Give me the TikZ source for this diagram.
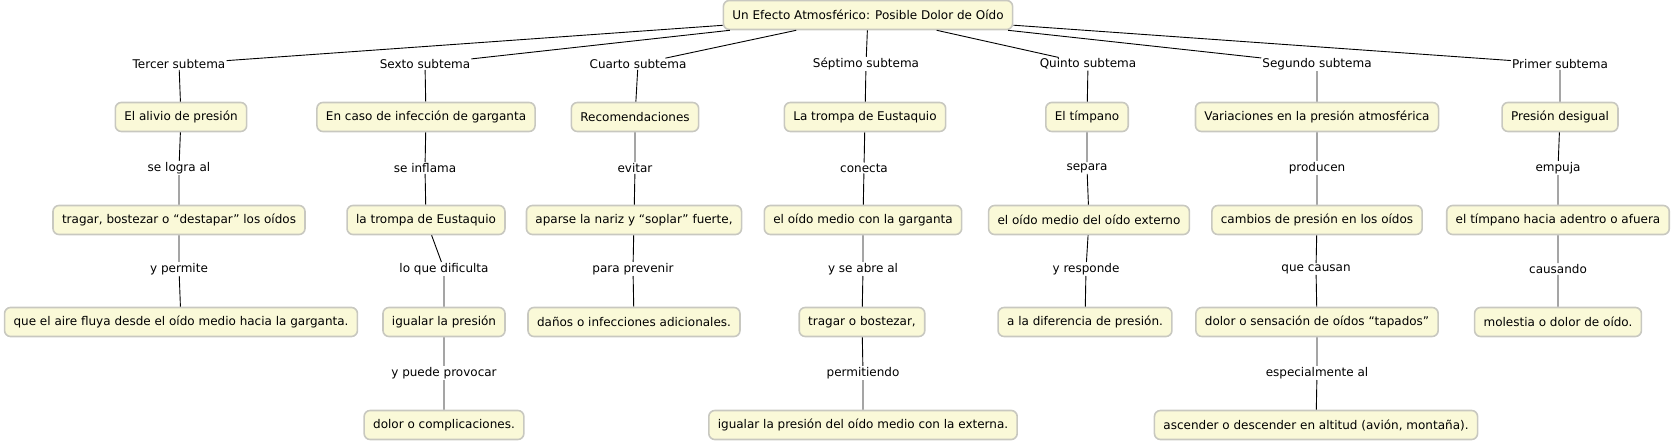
\documentclass[tikz,border=0pt]{standalone}
\usepackage{fontspec}
\setmainfont{DejaVu Sans}
\definecolor{crema}{RGB}{250,249,216}
\definecolor{borde}{RGB}{200,200,192}

\begin{document}
\begin{tikzpicture}[x=1pt,y=-1pt,
  concepto/.style={draw=borde, line width=1.6pt, fill=crema, rounded corners=6pt,
    inner xsep=9pt, minimum height=29pt, font=\fontsize{12}{14}\selectfont},
  enlace/.style={inner sep=1pt, font=\fontsize{12}{14}\selectfont},
  linea/.style={line width=0.9pt}]
\useasboundingbox (0,0) rectangle (1675,443);
% Concepto raiz
\node[concepto] (raiz) at (868,15) {Un Efecto Atmosférico: Posible Dolor de Oído};
% Tercer subtema
\node[enlace] (tercer) at (179,64) {Tercer subtema};
\node[concepto] (alivio) at (181,117) {El alivio de presión};
\node[enlace] (logra) at (179,168) {se logra al};
\node[concepto] (tragar) at (179,220) {tragar, bostezar o “destapar” los oídos};
\node[enlace] (permite) at (179,269) {y permite};
\node[concepto] (aire) at (181,322) {que el aire fluya desde el oído medio hacia la garganta.};
% Sexto subtema
\node[enlace] (sexto) at (425,64) {Sexto subtema};
\node[concepto] (infeccion) at (426,117) {En caso de infección de garganta};
\node[enlace] (inflama) at (425,168) {se inflama};
\node[concepto] (trompaA) at (426,220) {la trompa de Eustaquio};
\node[enlace] (dificulta) at (444,269) {lo que dificulta};
\node[concepto] (igualarA) at (444,322) {igualar la presión};
\node[enlace] (provocar) at (444,373) {y puede provocar};
\node[concepto] (complicaciones) at (444,425) {dolor o complicaciones.};
% Cuarto subtema
\node[enlace] (cuarto) at (638,64) {Cuarto subtema};
\node[concepto] (recomendaciones) at (635,117) {Recomendaciones};
\node[enlace] (evitar) at (635,168) {evitar};
\node[concepto] (sonarse) at (634,220) {aparse la nariz y “soplar” fuerte,};
\node[enlace] (prevenir) at (633,269) {para prevenir};
\node[concepto] (danos) at (634,322) {daños o infecciones adicionales.};
% Septimo subtema
\node[enlace] (septimo) at (866,64) {Séptimo subtema};
\node[concepto] (trompaB) at (865,117) {La trompa de Eustaquio};
\node[enlace] (conecta) at (864,168) {conecta};
\node[concepto] (medio) at (863,220) {el oído medio con la garganta};
\node[enlace] (abre) at (863,269) {y se abre al};
\node[concepto] (bostezar) at (862,322) {tragar o bostezar,};
\node[enlace] (permitiendo) at (863,373) {permitiendo};
\node[concepto] (igualarB) at (863,425) {igualar la presión del oído medio con la externa.};
% Quinto subtema
\node[enlace] (quinto) at (1088,64) {Quinto subtema};
\node[concepto] (timpano) at (1087,117) {El tímpano};
\node[enlace] (separa) at (1087,168) {separa};
\node[concepto] (externo) at (1089,220) {el oído medio del oído externo};
\node[enlace] (responde) at (1086,269) {y responde};
\node[concepto] (diferencia) at (1085,322) {a la diferencia de presión.};
% Segundo subtema
\node[enlace] (segundo) at (1317,64) {Segundo subtema};
\node[concepto] (variaciones) at (1317,117) {Variaciones en la presión atmosférica};
\node[enlace] (producen) at (1317,168) {producen};
\node[concepto] (cambios) at (1317,220) {cambios de presión en los oídos};
\node[enlace] (causan) at (1316,269) {que causan};
\node[concepto] (tapados) at (1317,322) {dolor o sensación de oídos “tapados”};
\node[enlace] (especialmente) at (1317,373) {especialmente al};
\node[concepto] (ascender) at (1316,425) {ascender o descender en altitud (avión, montaña).};
% Primer subtema
\node[enlace] (primer) at (1560,64) {Primer subtema};
\node[concepto] (desigual) at (1560,117) {Presión desigual};
\node[enlace] (empuja) at (1558,168) {empuja};
\node[concepto] (hacia) at (1558,220) {el tímpano hacia adentro o afuera};
\node[enlace] (causando) at (1558,269) {causando};
\node[concepto] (molestia) at (1558,322) {molestia o dolor de oído.};
% Conexiones
\draw[linea] (raiz) -- (tercer) -- (alivio) -- (logra) -- (tragar) -- (permite) -- (aire);
\draw[linea] (raiz) -- (sexto) -- (infeccion) -- (inflama) -- (trompaA) -- (dificulta) -- (igualarA) -- (provocar) -- (complicaciones);
\draw[linea] (raiz) -- (cuarto) -- (recomendaciones) -- (evitar) -- (sonarse) -- (prevenir) -- (danos);
\draw[linea] (raiz) -- (septimo) -- (trompaB) -- (conecta) -- (medio) -- (abre) -- (bostezar) -- (permitiendo) -- (igualarB);
\draw[linea] (raiz) -- (quinto) -- (timpano) -- (separa) -- (externo) -- (responde) -- (diferencia);
\draw[linea] (raiz) -- (segundo) -- (variaciones) -- (producen) -- (cambios) -- (causan) -- (tapados) -- (especialmente) -- (ascender);
\draw[linea] (raiz) -- (primer) -- (desigual) -- (empuja) -- (hacia) -- (causando) -- (molestia);
\end{tikzpicture}
\end{document}
